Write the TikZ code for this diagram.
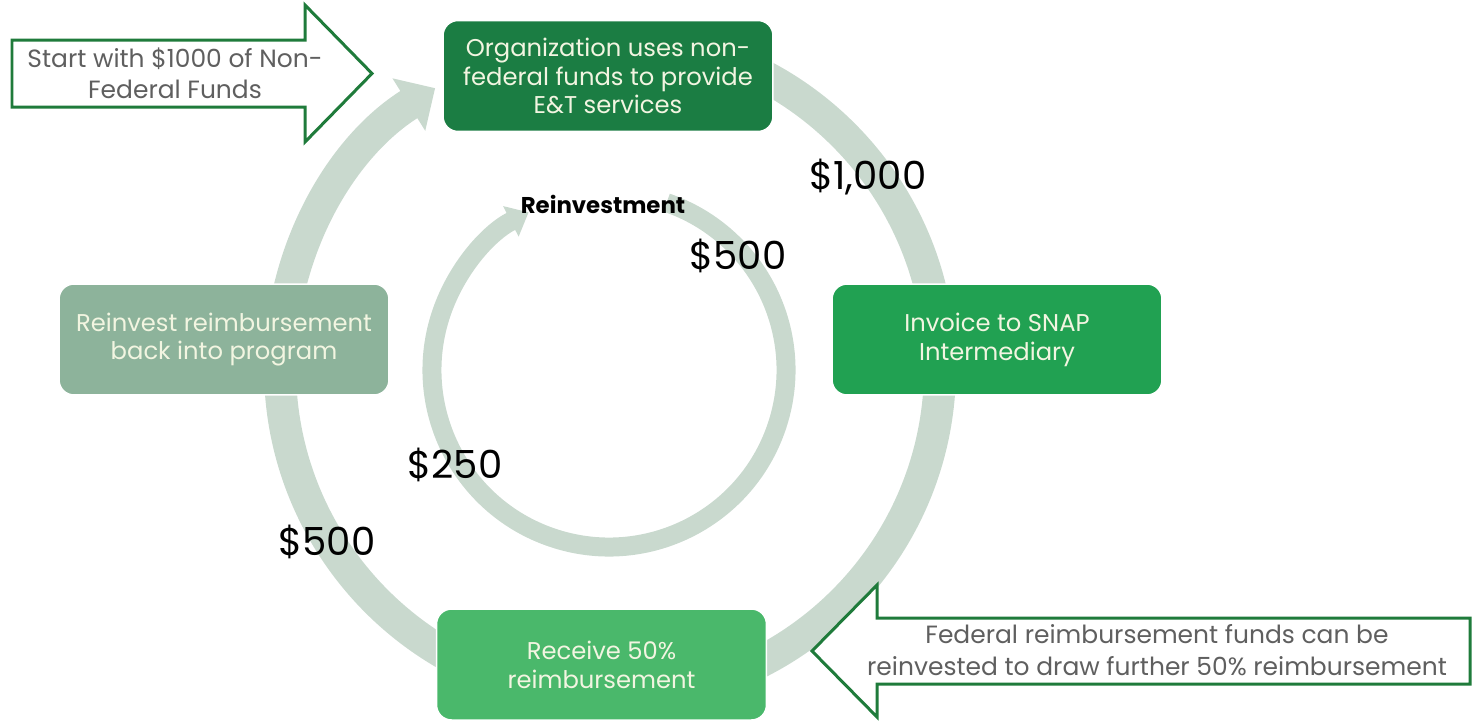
\documentclass[tikz,border=0pt]{standalone}
\usepackage{fontspec}
\setmainfont{Poppins}
\usetikzlibrary{positioning,arrows.meta}

\definecolor{ringgray}{HTML}{C9D9CE}
\definecolor{orggreen}{HTML}{1B7D43}
\definecolor{invgreen}{HTML}{21A152}
\definecolor{recgreen}{HTML}{4AB86B}
\definecolor{reinvgreen}{HTML}{8DB39B}
\definecolor{boxtext}{HTML}{F2F5E1}
\definecolor{arrowline}{HTML}{1F7B3B}
\definecolor{arrowtext}{HTML}{5F5F5F}

\begin{document}
\begin{tikzpicture}[
		x=0.02cm, y=0.02cm,
		stepbox/.style={rounded corners=0.3cm,draw=white,line width=0.03cm,minimum width=6.6cm,minimum height=2.22cm,align=center,text=boxtext,font=\fontsize{13.8}{16.4}\selectfont},
		money/.style={font=\fontsize{22}{26}\selectfont},
		bigarrow/.style={draw=arrowline,line width=0.06cm,fill=white},
		arrowlabel/.style={align=center,text=arrowtext,font=\fontsize{14.2}{17.8}\selectfont},
		ring/.style={draw=ringgray,line width=0.64cm}
		]
		\useasboundingbox (0,0) rectangle (1476,-720);
		\coordinate (hub) at (610,-368);
		\coordinate (innerhub) at (609,-370);
		% outer cycle
		\draw[ring,-{Triangle[width=1.2cm,length=0.62cm]}]
		(hub) ++(90:330) arc[start angle=90,end angle=-238,radius=330];
		% inner cycle
		\draw[ring,line width=0.38cm,-{Triangle[width=0.66cm,length=0.4cm]}]
		(innerhub) ++(71:177) arc[start angle=71,end angle=-243,radius=177];
		\node[stepbox,fill=orggreen] (org) at (608,-76) {Organization uses non-\\federal funds to provide\\E\&T services};
		\node[stepbox,fill=invgreen] (invoice) at (997,-339.5) {Invoice to SNAP\\Intermediary};
		\node[stepbox,fill=recgreen] (receive) at (601.5,-664.5) {Receive 50\%\\reimbursement};
		\node[stepbox,fill=reinvgreen] (reinvest) at (224,-339.5) {Reinvest reimbursement\\back into program};
		\node[money] (thousand) at (868,-177) {\$1,000};
		\node[money] (halfinner) at (738,-256) {\$500};
		\node[money] (quarter) at (455,-465) {\$250};
		\node[money] (halfouter) at (327,-542) {\$500};
		\node[font=\bfseries\fontsize{13}{15}\selectfont] (reinvestment) at (603,-204) {Reinvestment};
		% side arrows
		\draw[bigarrow] (12,-40) -- (305,-40) -- (305,-5) -- (372,-73.5) -- (305,-142) -- (305,-107) -- (12,-107) -- cycle;
		\node[arrowlabel] (startfunds) at (175,-73) {Start with \$1000 of Non-\\Federal Funds};
		\draw[bigarrow] (1470,-618) -- (877,-618) -- (877,-585) -- (812,-651) -- (877,-717) -- (877,-684) -- (1470,-684) -- cycle;
		\node[arrowlabel] (federalfunds) at (1157,-650) {Federal reimbursement funds can be\\reinvested to draw further 50\% reimbursement};
	\end{tikzpicture}
\end{document}
